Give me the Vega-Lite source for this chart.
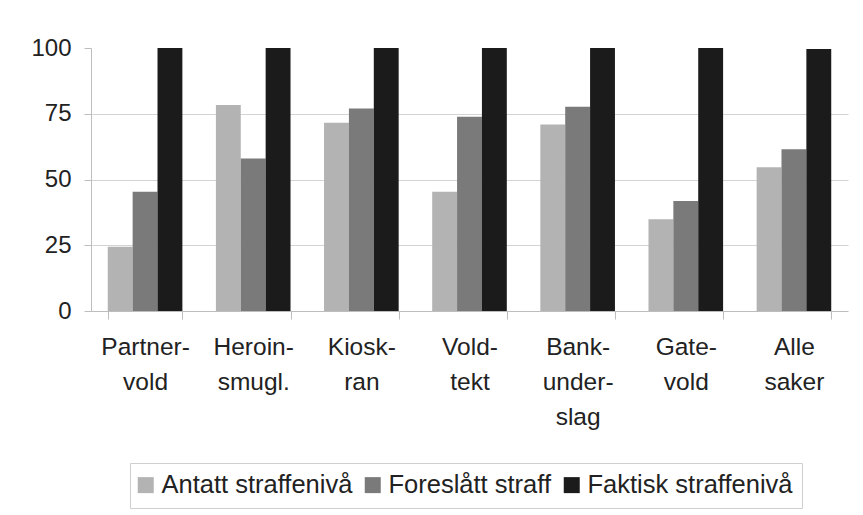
{
  "$schema": "https://vega.github.io/schema/vega-lite/v6.json",
  "width": 757,
  "height": 263,
  "autosize": {"type": "none"},
  "padding": {"left": 91, "top": 48, "right": 15, "bottom": 204},
  "background": "white",
  "config": {
    "font": "Liberation Sans",
    "view": {"stroke": null}
  },
  "data": {
    "values": [
      {"kategori": "Partner- vold", "serie": "Antatt straffenivå", "verdi": 24.4},
      {"kategori": "Partner- vold", "serie": "Foreslått straff", "verdi": 45.3},
      {"kategori": "Partner- vold", "serie": "Faktisk straffenivå", "verdi": 100},
      {"kategori": "Heroin- smugl.", "serie": "Antatt straffenivå", "verdi": 78.3},
      {"kategori": "Heroin- smugl.", "serie": "Foreslått straff", "verdi": 58},
      {"kategori": "Heroin- smugl.", "serie": "Faktisk straffenivå", "verdi": 100},
      {"kategori": "Kiosk- ran", "serie": "Antatt straffenivå", "verdi": 71.6},
      {"kategori": "Kiosk- ran", "serie": "Foreslått straff", "verdi": 77},
      {"kategori": "Kiosk- ran", "serie": "Faktisk straffenivå", "verdi": 100},
      {"kategori": "Vold- tekt", "serie": "Antatt straffenivå", "verdi": 45.3},
      {"kategori": "Vold- tekt", "serie": "Foreslått straff", "verdi": 73.9},
      {"kategori": "Vold- tekt", "serie": "Faktisk straffenivå", "verdi": 100},
      {"kategori": "Bank- under- slag", "serie": "Antatt straffenivå", "verdi": 70.9},
      {"kategori": "Bank- under- slag", "serie": "Foreslått straff", "verdi": 77.7},
      {"kategori": "Bank- under- slag", "serie": "Faktisk straffenivå", "verdi": 100},
      {"kategori": "Gate- vold", "serie": "Antatt straffenivå", "verdi": 34.9},
      {"kategori": "Gate- vold", "serie": "Foreslått straff", "verdi": 41.8},
      {"kategori": "Gate- vold", "serie": "Faktisk straffenivå", "verdi": 100},
      {"kategori": "Alle saker", "serie": "Antatt straffenivå", "verdi": 54.7},
      {"kategori": "Alle saker", "serie": "Foreslått straff", "verdi": 61.5},
      {"kategori": "Alle saker", "serie": "Faktisk straffenivå", "verdi": 99.6}
    ]
  },
  "mark": {"type": "bar"},
  "encoding": {
    "x": {
      "field": "kategori",
      "type": "nominal",
      "sort": null,
      "scale": {"paddingInner": 0.31, "paddingOuter": 0.155},
      "axis": {
        "title": null,
        "labelAngle": 0,
        "labelExpr": "split(datum.label, ' ')",
        "labelFontSize": 24.5,
        "labelLineHeight": 35,
        "labelColor": "#222222",
        "labelPadding": 16,
        "tickBand": "extent",
        "tickSize": 8,
        "tickColor": "#bdbdbd",
        "domainColor": "#bdbdbd",
        "grid": false
      }
    },
    "xOffset": {
      "field": "serie",
      "type": "nominal",
      "scale": {"domain": ["Antatt straffenivå", "Foreslått straff", "Faktisk straffenivå"], "paddingInner": 0, "paddingOuter": 0}
    },
    "y": {
      "field": "verdi",
      "type": "quantitative",
      "scale": {"domain": [0, 100], "nice": false},
      "axis": {
        "title": null,
        "values": [0, 25, 50, 75, 100],
        "labelFontSize": 24,
        "labelColor": "#222222",
        "labelPadding": 13,
        "tickSize": 7,
        "tickColor": "#bdbdbd",
        "domainColor": "#bdbdbd",
        "gridColor": "#d4d4d4",
        "gridOpacity": {"condition": {"test": "datum.value == 100 || datum.value == 0", "value": 0}, "value": 1}
      }
    },
    "color": {
      "field": "serie",
      "type": "nominal",
      "scale": {
        "domain": ["Antatt straffenivå", "Foreslått straff", "Faktisk straffenivå"],
        "range": ["#b3b3b3", "#7a7a7a", "#1b1b1b"]
      },
      "legend": {
        "title": null,
        "orient": "none",
        "direction": "horizontal",
        "columns": 3,
        "legendX": 39,
        "legendY": 415,
        "strokeColor": "#cfcfcf",
        "padding": 9,
        "symbolType": "square",
        "symbolSize": 256,
        "symbolStrokeWidth": 0,
        "symbolOffset": -6,
        "labelFontSize": 25.5,
        "labelColor": "#222222",
        "labelOffset": 3,
        "labelLimit": 400,
        "columnPadding": 11
      }
    }
  }
}
